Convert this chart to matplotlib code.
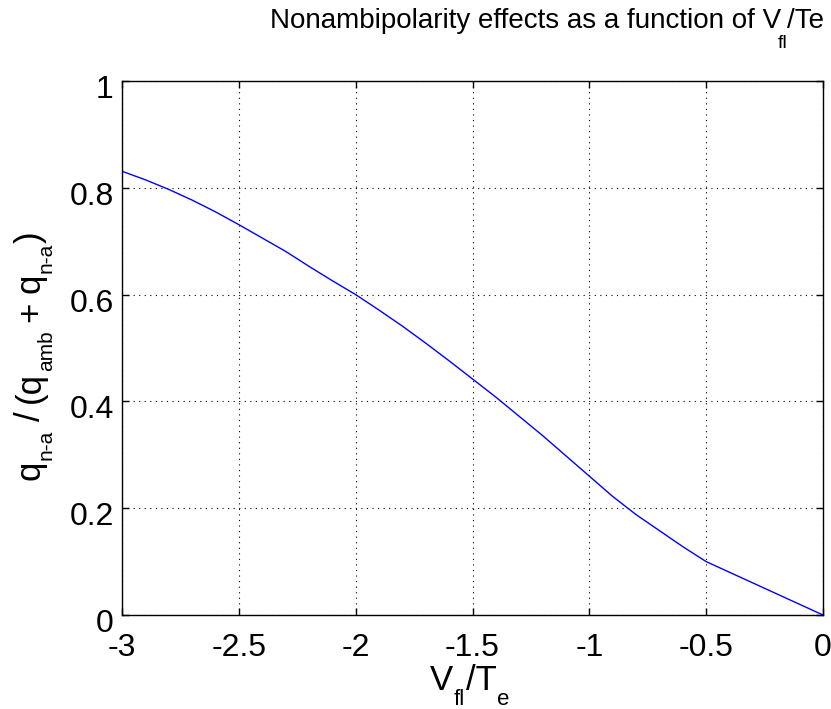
import numpy as np
import matplotlib
matplotlib.use('Agg')
import matplotlib.pyplot as plt
from matplotlib.transforms import IdentityTransform, ScaledTranslation

# values
vfl_te = [-3.0, -2.9, -2.8, -2.7, -2.6, -2.5, -2.4, -2.3, -2.2, -2.1, -2.0,
          -1.9, -1.8, -1.7, -1.6, -1.5, -1.4, -1.3, -1.2, -1.1, -1.0,
          -0.9, -0.8, -0.7, -0.6, -0.5, -0.4, -0.3, -0.2, -0.1, 0.0]
frac_na = [0.831, 0.815, 0.797, 0.777, 0.755, 0.731, 0.706, 0.681, 0.653, 0.626, 0.600,
           0.571, 0.541, 0.509, 0.476, 0.442, 0.408, 0.372, 0.336, 0.298, 0.260,
           0.222, 0.188, 0.158, 0.128, 0.100, 0.080, 0.060, 0.040, 0.020, 0.0]

xticks = [-3, -2.5, -2, -1.5, -1, -0.5, 0]
xticklabels = ['-3', '-2.5', '-2', '-1.5', '-1', '-0.5', '0']
yticks = [0, 0.2, 0.4, 0.6, 0.8, 1]
yticklabels = ['0', '0.2', '0.4', '0.6', '0.8', '1']

plt.rcParams['font.family'] = ['Liberation Sans', 'DejaVu Sans']

W, H = 831, 709
fig = plt.figure(figsize=(W / 100, H / 100), dpi=100)
ax = fig.add_axes([122 / W, 1 - 615 / H, 701 / W, 534 / H])

ax.plot(vfl_te, frac_na, color='#0000ff', linewidth=1)

ax.set_xlim(-3, 0)
ax.set_ylim(0, 1)
ax.set_xticks(xticks)
ax.set_xticklabels(xticklabels)
ax.set_yticks(yticks)
ax.set_yticklabels(yticklabels)
ax.tick_params(direction='in', length=5, width=1, labelsize=23,
               top=True, right=True)
ax.tick_params(axis='x', pad=13)
ax.tick_params(axis='y', pad=6)
ax.grid(True, color='black', linestyle=(0, (1, 4)), linewidth=0.8)
for s in ax.spines.values():
    s.set_linewidth(1)

# MATLAB puts the y tick labels a bit below the tick
for lab in ax.get_yticklabels():
    lab.set_transform(lab.get_transform() + ScaledTranslation(0, -4 / 72, fig.dpi_scale_trans))


def put_pieces(pieces, x, y, rotation=0):
    """Draw (text, size, drop_px) pieces one after the other, centred on x (or y if rotated)."""
    renderer = fig.canvas.get_renderer()
    texts = []
    pos = 0.0
    for s, size, drop in pieces:
        if s is None:          # plain gap in pixels (can be negative)
            pos += size
            continue
        t = fig.text(0, 0, s, fontsize=size, ha='left', va='baseline',
                     rotation=rotation, rotation_mode='anchor',
                     transform=IdentityTransform())
        bb = t.get_window_extent(renderer)
        length = bb.height if rotation else bb.width
        texts.append((t, pos, drop))
        pos += length + 0.5
    start = -pos / 2
    for t, p, drop in texts:
        if rotation:
            t.set_position((x + drop, y + start + p))
        else:
            t.set_position((x + start + p, y - drop))


# title, x label and y label with MATLAB-style deep subscripts (pixel coords, origin bottom-left)
put_pieces([('Nonambipolarity effects as a function of V', 20, 0), (None, -4, 0),
            ('fl', 14, 20), (None, -1, 0), ('/Te', 20, 0)], 547, H - 28)
put_pieces([('V', 25, 0), ('fl', 16, 15), ('/T', 25, 0), ('e', 16, 15)], 470, H - 690)
put_pieces([('q', 25, 0), ('n-a', 15, 12), (None, 8, 0), ('/', 25, 0), (None, 8, 0),
            ('(q', 25, 0), ('amb', 15, 12), (None, 8, 0), ('+', 25, 0), (None, 8, 0),
            ('q', 25, 0), ('n-a', 15, 12), (')', 25, 0)], 40, H - 355, rotation=90)

fig.savefig('out.png', dpi=100)
